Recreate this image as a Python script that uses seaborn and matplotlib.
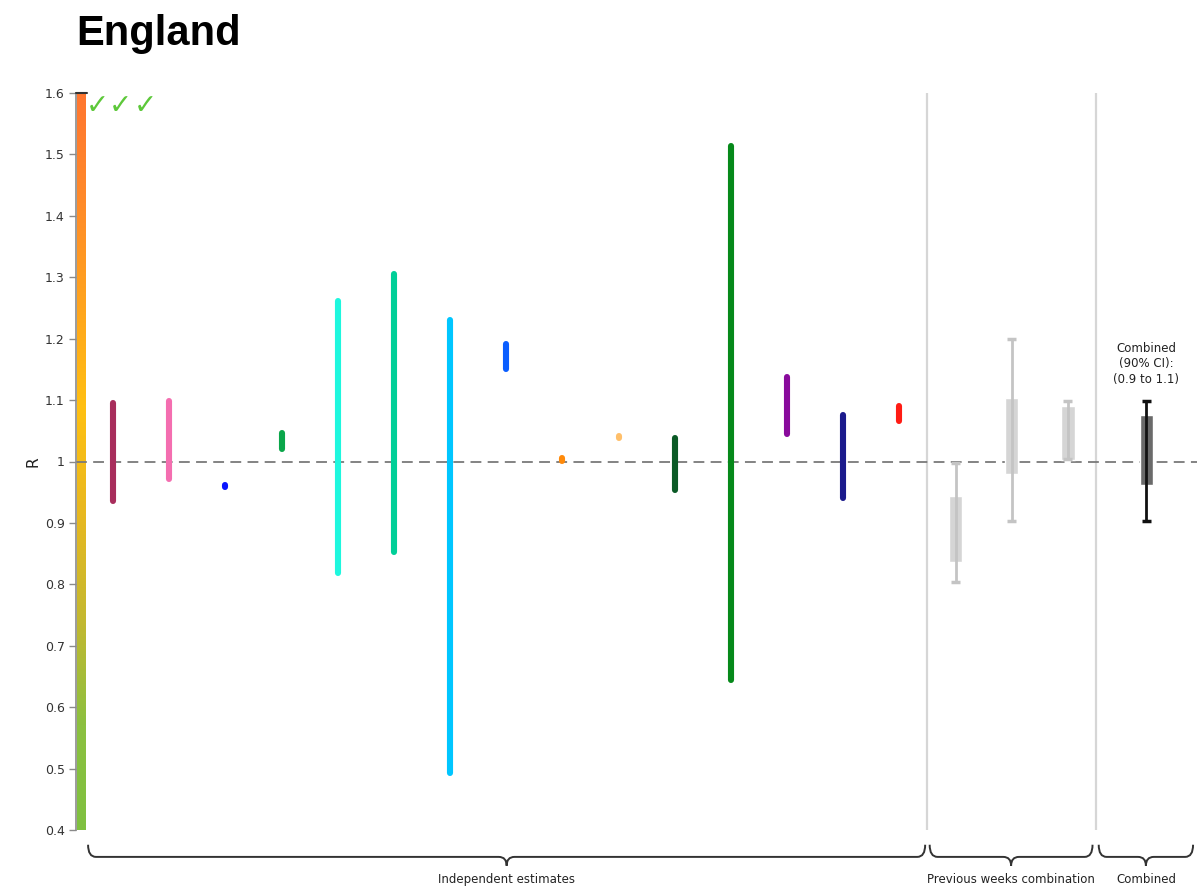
import numpy as np
import matplotlib
matplotlib.use("Agg")
import matplotlib.pyplot as plt
from matplotlib.colors import LinearSegmentedColormap
from matplotlib.path import Path
from matplotlib.patches import PathPatch
import seaborn as sns

# ---- data -------------------------------------------------------------
est_low = [0.935, 0.972, 0.959, 1.020, 0.818, 0.852, 0.492, 1.150, 1.001, 1.039, 0.953, 0.645, 1.044, 0.940, 1.066]
est_high = [1.096, 1.098, 0.961, 1.046, 1.262, 1.306, 1.231, 1.192, 1.005, 1.042, 1.038, 1.514, 1.138, 1.076, 1.090]
est_colors = ["#a82d5c", "#f46eb0", "#0a14ff", "#0aa64a", "#1ef7de", "#00cf98", "#00c6ff",
              "#0a5eff", "#ff8a0a", "#ffbf6a", "#0b5a26", "#06891a", "#890a9c", "#1b1a8c", "#ff1c14"]

prev_box_low = [0.837, 0.980, 1.003]
prev_box_high = [0.944, 1.104, 1.091]
prev_ci_low = [0.803, 0.903, 1.004]
prev_ci_high = [0.998, 1.200, 1.099]

comb_box_low = [0.961]
comb_box_high = [1.075]
comb_ci_low = [0.903]
comb_ci_high = [1.099]
comb_label = "Combined\n(90% CI):\n(0.9 to 1.1)"

y_ticks = [0.4, 0.5, 0.6, 0.7, 0.8, 0.9, 1.0, 1.1, 1.2, 1.3, 1.4, 1.5, 1.6]
section_labels = ["Independent estimates", "Previous weeks combination", "Combined"]
scale_colors = ["#7fc040", "#8cc040", "#c4b830", "#e8b820", "#ffc012", "#ffa41e", "#ff8a2a", "#ff7630"]

# ---- layout -----------------------------------------------------------
sns.set_theme(style="white")
plt.rcParams["font.family"] = ["DejaVu Sans"]

W, H = 1199, 892
fig = plt.figure(figsize=(W / 100, H / 100), dpi=100)
ax = fig.add_axes([76 / W, 62 / H, (1197 - 76) / W, (830 - 93) / H])

n_est = len(est_low)
x_est = np.arange(n_est)
x_prev = n_est + np.arange(len(prev_box_low))
x_comb = np.array([x_prev[-1] + 0.5 + 0.9])
x_left, x_right = -0.66, x_prev[-1] + 0.5 + 1.8

ax.set_xlim(x_left, x_right)
ax.set_ylim(0.4, 1.6)

# colour scale strip along the y axis
cmap = LinearSegmentedColormap.from_list("rscale", scale_colors)
cax = ax.inset_axes([0.001, 0.0, 9 / (1197 - 76), 1.0])
cax.imshow(np.linspace(0, 1, 256)[:, None], aspect="auto", cmap=cmap,
           origin="lower", extent=(0, 1, 0.4, 1.6))
cax.set_ylim(0.4, 1.6)
cax.axis("off")
cax.set_zorder(0.5)

# reference line at R = 1
ax.axhline(1.0, color="#7a7a7a", lw=1.3, dashes=(6, 3.5), zorder=1)

# section separators
for xs in (n_est - 0.5, x_prev[-1] + 0.5):
    ax.axvline(xs, color="#d6d6d6", lw=1.6, zorder=0.8)

# independent estimates
for xi, lo, hi, c in zip(x_est, est_low, est_high, est_colors):
    ax.plot([xi, xi], [lo, hi], color=c, lw=4.4, solid_capstyle="round", zorder=3)

# previous weeks combination
bw = 0.24
ax.bar(x_prev, np.array(prev_box_high) - np.array(prev_box_low), bottom=prev_box_low,
       width=bw, color="#d5d5d5", zorder=2)
ax.vlines(x_prev, prev_ci_low, prev_ci_high, color="#c4c4c4", lw=2, zorder=3)
ax.hlines(prev_ci_low + prev_ci_high, np.tile(x_prev, 2) - 0.08, np.tile(x_prev, 2) + 0.08,
          color="#c4c4c4", lw=2.5, zorder=3)

# combined
ax.bar(x_comb, np.array(comb_box_high) - np.array(comb_box_low), bottom=comb_box_low,
       width=bw, color="#6a6a6a", zorder=2)
ax.vlines(x_comb, comb_ci_low, comb_ci_high, color="#111111", lw=2, zorder=3)
ax.hlines(comb_ci_low + comb_ci_high, np.tile(x_comb, 2) - 0.08, np.tile(x_comb, 2) + 0.08,
          color="#111111", lw=2.5, zorder=3)
ax.text(x_comb[0], comb_ci_high[0] + 0.024, comb_label, ha="center", va="bottom",
        fontsize=8.5, color="#222222", linespacing=1.25)

# axes styling
sns.despine(ax=ax, top=True, right=True, bottom=True)
ax.spines["left"].set_color("#8a8a8a")
ax.spines["left"].set_linewidth(1.2)
ax.set_xticks([])
ax.set_yticks(y_ticks)
ax.set_yticklabels([f"{v:g}" for v in y_ticks])
ax.tick_params(axis="y", left=True, direction="out", length=5, width=1,
               color="#8a8a8a", labelsize=9, labelcolor="#333333", pad=3)
ax.set_ylabel("R", fontsize=11, color="#222222", labelpad=3)
ax.grid(False)

# top cap of the colour strip
ax.plot([0, 0.0095], [1.0, 1.0], transform=ax.transAxes, color="#333333", lw=1.5,
        clip_on=False, zorder=4)

# check marks
for px in (21, 44, 69):
    ax.text(px / (1197 - 76), 0.982, "\u2713", transform=ax.transAxes, ha="center",
            va="center", fontsize=20, color="#5dc83a", zorder=5)

fig.text(76 / W, 1 - 34 / H, "England", fontsize=30, fontweight="bold",
         family=["Liberation Sans", "DejaVu Sans"], va="center", ha="left", color="black")


# curly braces under each section
def brace(x0, x1, label):
    trans = ax.get_xaxis_transform()
    y_top, y_mid, y_tip = -0.020, -0.0365, -0.0485
    r = 0.14
    xm = (x0 + x1) / 2
    verts = [(x0, y_top), (x0, y_mid), (x0 + r, y_mid),
             (xm - r, y_mid),
             (xm, y_mid), (xm, y_tip),
             (xm, y_mid), (xm + r, y_mid),
             (x1 - r, y_mid),
             (x1, y_mid), (x1, y_top)]
    codes = [Path.MOVETO, Path.CURVE3, Path.CURVE3,
             Path.LINETO,
             Path.CURVE3, Path.CURVE3,
             Path.CURVE3, Path.CURVE3,
             Path.LINETO,
             Path.CURVE3, Path.CURVE3]
    patch = PathPatch(Path(verts, codes), transform=trans, fill=False,
                      edgecolor="#333333", lw=1.4, clip_on=False)
    ax.add_patch(patch)
    ax.text(xm, -0.0665, label, transform=trans, ha="center", va="center",
            fontsize=8.5, color="#222222", clip_on=False)


sep1 = n_est - 0.5
sep2 = x_prev[-1] + 0.5
brace(-0.445, sep1 - 0.04, section_labels[0])
brace(sep1 + 0.04, sep2 - 0.06, section_labels[1])
brace(sep2 + 0.05, x_right - 0.07, section_labels[2])

fig.savefig("out.png", dpi=100)
